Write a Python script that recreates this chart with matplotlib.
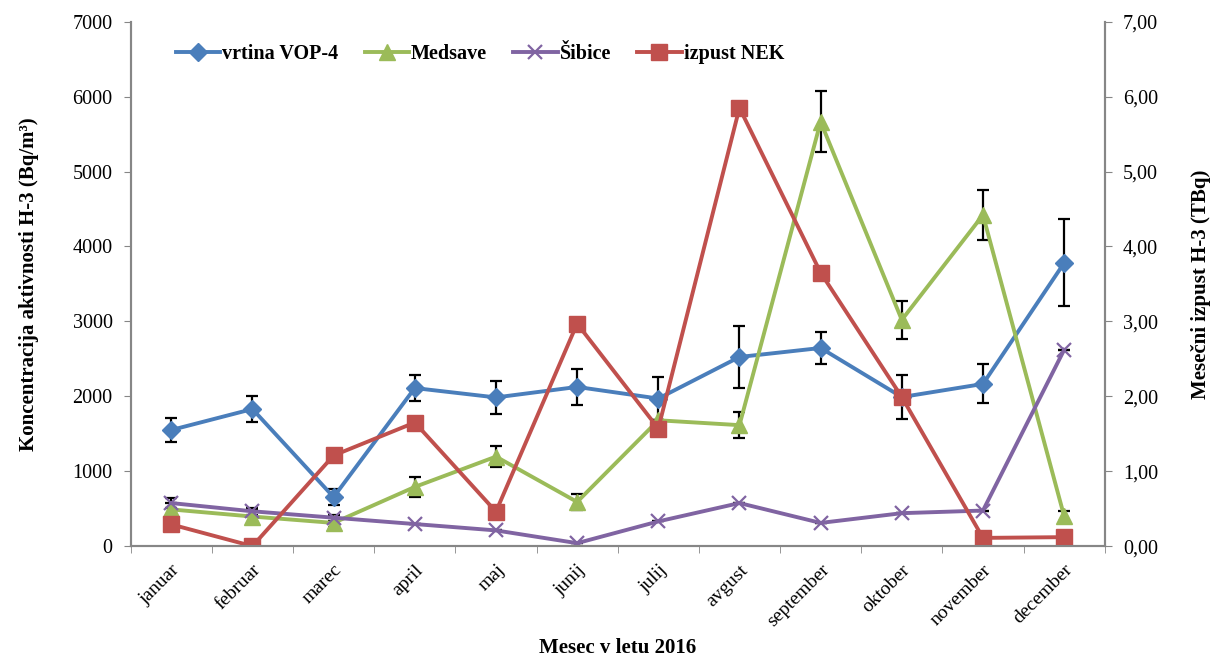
import matplotlib
matplotlib.use("Agg")
from matplotlib import pyplot as plt
from matplotlib.lines import Line2D
from matplotlib.ticker import FuncFormatter
import numpy as np

plt.rcParams['font.family'] = ['Liberation Serif', 'DejaVu Serif']

months = ["januar", "februar", "marec", "april", "maj", "junij", "julij",
          "avgust", "september", "oktober", "november", "december"]

# Bq/m3 (left axis)
vop4 = [1550, 1830, 655, 2110, 1985, 2125, 1970, 2525, 2645, 1990, 2165, 3780]
vop4_err = [160, 175, 110, 170, 225, 235, 290, 420, 215, 290, 260, 580]
medsave = [490, 395, 310, 790, 1195, 590, 1680, 1615, 5665, 3020, 4420, 400]
medsave_err = [90, 100, 60, 130, 140, 110, 0, 170, 410, 255, 340, 70]
sibice = [575, 465, 380, 295, 210, 40, 330, 575, 310, 440, 475, 2620]
sibice_err = [70, 50, 40, 0, 0, 0, 0, 0, 0, 0, 0, 0]

# TBq (right axis)
izpust = [0.29, 0.0, 1.21, 1.65, 0.46, 2.97, 1.57, 5.85, 3.65, 1.99, 0.11, 0.12]

blue = "#4A7EBB"
green = "#9BBB59"
purple = "#8064A2"
red = "#C0504D"

x = np.arange(len(months))

fig = plt.figure(figsize=(12.1, 6.58), dpi=100)
ax = fig.add_axes([0.108, 0.170, 0.805, 0.797])
ax2 = ax.twinx()

lw = 2.8
err_kw = dict(ecolor="black", elinewidth=1.6, capsize=4, capthick=1.6, zorder=3)
ax.errorbar(x, vop4, yerr=vop4_err, color=blue, lw=lw, marker="D", ms=9, **err_kw)
ax.errorbar(x, medsave, yerr=medsave_err, color=green, lw=lw, marker="^", ms=11, **err_kw)
ax.errorbar(x, sibice, yerr=sibice_err, color=purple, lw=lw, marker="x", ms=10,
            mew=1.6, **err_kw)
ax2.plot(x, izpust, color=red, lw=lw, marker="s", ms=11)

ax.set_xlim(-0.5, len(months) - 0.5)
ax.set_ylim(0, 7000)
ax2.set_ylim(0, 7)
ax.set_yticks(np.arange(0, 7001, 1000))
ax2.set_yticks(np.arange(0, 7.01, 1))
ax2.yaxis.set_major_formatter(FuncFormatter(lambda v, p: f"{v:.2f}".replace(".", ",")))

ax.set_xticks(x)
ax.set_xticklabels(months, rotation=45, ha="right", rotation_mode="anchor", fontsize=14)
ax.tick_params(axis="x", which="major", length=0, pad=11)
ax.set_xticks(np.arange(-0.5, len(months), 1), minor=True)
ax.tick_params(axis="x", which="minor", length=5, color="#868686", direction="out")
ax.tick_params(axis="y", labelsize=14.5, length=5, color="#868686", pad=8)
ax2.tick_params(axis="y", labelsize=14.5, length=5, color="#868686", pad=8)

for a in (ax, ax2):
    a.spines["top"].set_visible(False)
    for s in ("left", "right", "bottom"):
        a.spines[s].set_color("#868686")
        a.spines[s].set_linewidth(1.5)

fig.text(0.5105, 0.015, "Mesec v letu 2016", fontsize=15, fontweight="bold",
         ha="center", va="center")
ax.set_ylabel("Koncentracija aktivnosti H-3 (Bq/m³)", fontsize=15,
              fontweight="bold", labelpad=24)
ax2.set_ylabel("Mesečni izpust H-3 (TBq)", fontsize=15, fontweight="bold", labelpad=24)

handles = [
    Line2D([], [], color=blue, lw=lw, marker="D", ms=9),
    Line2D([], [], color=green, lw=lw, marker="^", ms=11),
    Line2D([], [], color=purple, lw=lw, marker="x", ms=10, mew=1.6),
    Line2D([], [], color=red, lw=lw, marker="s", ms=11),
]
labels = ["vrtina VOP-4", "Medsave", "Šibice", "izpust NEK"]
ax2.legend(handles, labels, loc="upper left", ncol=4, frameon=False,
           bbox_to_anchor=(0.028, 0.992), prop={"weight": "bold", "size": 14.5},
           handlelength=2.2, columnspacing=1.3, handletextpad=0.1)

fig.savefig("out.png", dpi=100)
